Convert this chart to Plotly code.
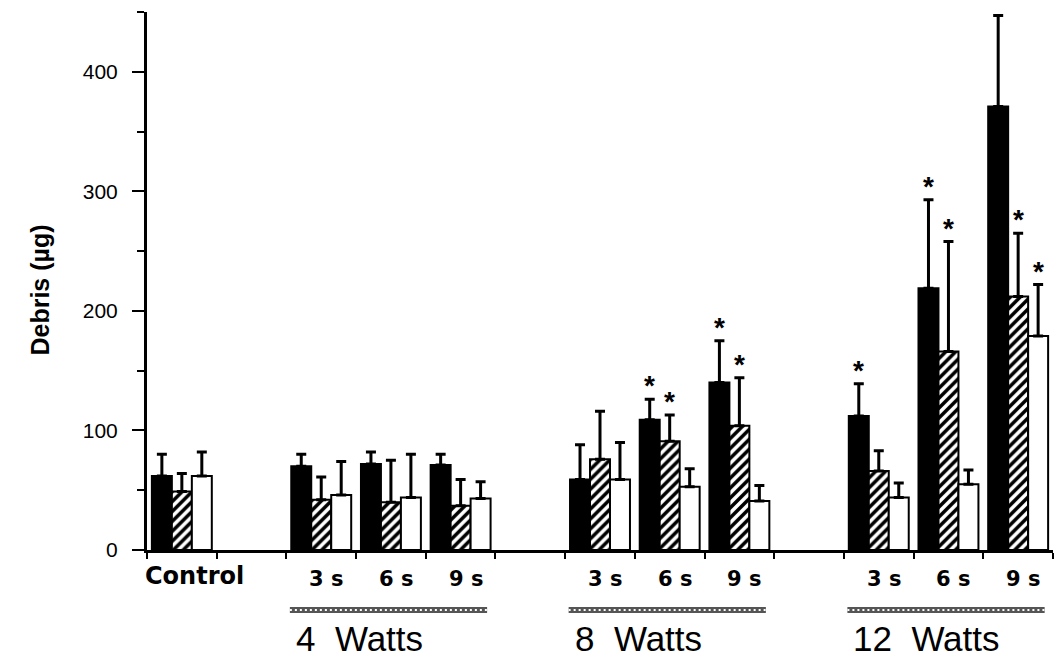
import plotly.graph_objects as go

# ---- data ----
power_groups = ["Control", "4  Watts", "8  Watts", "12  Watts"]
durations = ["3 s", "6 s", "9 s"]
control_label = "Control"
y_title = "Debris (µg)"

# order: Control, 4W 3s/6s/9s, 8W 3s/6s/9s, 12W 3s/6s/9s
black_vals = [62, 70, 72, 71, 59, 109, 140, 112, 219, 371]
black_err = [18, 10, 10, 9, 29, 17, 35, 27, 74, 76]
hatched_vals = [49, 42, 40, 37, 76, 91, 104, 66, 166, 212]
hatched_err = [15, 19, 35, 22, 40, 22, 40, 17, 92, 53]
white_vals = [62, 46, 44, 43, 59, 53, 41, 44, 55, 179]
white_err = [20, 28, 36, 14, 31, 15, 13, 12, 12, 43]

black_sig = [0, 0, 0, 0, 0, 1, 1, 1, 1, 0]
hatched_sig = [0, 0, 0, 0, 0, 1, 1, 0, 1, 1]
white_sig = [0, 0, 0, 0, 0, 0, 0, 0, 0, 1]

y_ticks = [0, 100, 200, 300, 400]
y_max = 450

# ---- slot layout: control slot, then a gap slot before each power group ----
slots = [0]
group_start = {}
s = 1
for g in power_groups[1:]:
    s += 1
    group_start[g] = s
    for d in durations:
        slots.append(s)
        s += 1
n_slots = s  # 13
centers = [v + 0.5 for v in slots]

FONT = "Liberation Sans, Arial, Helvetica, sans-serif"
BFONT = "DejaVu Sans, Liberation Sans, Arial, sans-serif"
fig = go.Figure()

bargap = 0.14
bw = (1 - bargap) / 3

series = [
    ("black", black_vals, black_err, black_sig,
     dict(color="black", line=dict(color="black", width=2))),
    ("hatched", hatched_vals, hatched_err, hatched_sig,
     dict(color="white", line=dict(color="black", width=2),
          pattern=dict(shape="/", fgcolor="black", bgcolor="white", size=7, solidity=0.5, fillmode="replace"))),
    ("white", white_vals, white_err, white_sig,
     dict(color="white", line=dict(color="black", width=2))),
]

for name, vals, err, sig, marker in series:
    fig.add_trace(go.Bar(
        x=centers, y=vals, name=name, marker=marker,
        error_y=dict(type="data", symmetric=False, array=err, arrayminus=[0] * len(err),
                     color="black", thickness=3, width=5),
        showlegend=False,
    ))

annotations = []
# significance stars
for i, (name, vals, err, sig, marker) in enumerate(series):
    off = (i - 1) * bw
    for c, v, e, sg in zip(centers, vals, err, sig):
        if sg:
            annotations.append(dict(x=c + off, y=v + e, xref="x", yref="y", text="<b>*</b>",
                                    showarrow=False, yanchor="bottom", yshift=-4,
                                    font=dict(family=FONT, size=28, color="black")))

# category labels
annotations.append(dict(x=0, y=0, xref="x", yref="paper", text="<b>" + control_label + "</b>",
                        showarrow=False, xanchor="left", yanchor="middle", xshift=-4, yshift=-26,
                        font=dict(family=BFONT, size=24, color="black")))
idx = 1
for g in power_groups[1:]:
    for d in durations:
        annotations.append(dict(x=centers[idx], y=0, xref="x", yref="paper", text="<b>" + d + "</b>",
                                showarrow=False, xanchor="center", yanchor="middle", xshift=5, yshift=-29,
                                font=dict(family=BFONT, size=21, color="black")))
        idx += 1
    st = group_start[g]
    annotations.append(dict(x=st + 0.05, y=0, xref="x", yref="paper", text=g,
                            showarrow=False, xanchor="left", yanchor="middle", xshift=4, yshift=-88,
                            font=dict(family=FONT, size=35, color="black")))

# y-axis title
annotations.append(dict(x=0, y=217, xref="paper", yref="y", text="<b>" + y_title + "</b>",
                        showarrow=False, textangle=-90, xanchor="center", yanchor="middle", xshift=-107,
                        font=dict(family=FONT, size=25, color="black")))

shapes = []
for g in power_groups[1:]:
    st = group_start[g]
    for col, w, dash in (("#555555", 6, "solid"), ("white", 2, "2px,3px")):
        shapes.append(dict(type="line", xref="x", yref="paper", x0=st + 0.05, x1=st + 2.88,
                           y0=-0.1115, y1=-0.1115, line=dict(color=col, width=w, dash=dash)))

fig.update_layout(
    width=1055, height=657,
    margin=dict(l=147, r=2, t=12, b=107),
    paper_bgcolor="white", plot_bgcolor="white",
    barmode="group", bargap=bargap, bargroupgap=0,
    annotations=annotations, shapes=shapes,
    font=dict(family=FONT, color="black"),
)
fig.update_xaxes(range=[0, n_slots], showline=True, linecolor="black", linewidth=3,
                 tickvals=list(range(n_slots + 1)), showticklabels=False,
                 ticks="outside", ticklen=6, tickwidth=2, tickcolor="black",
                 showgrid=False, zeroline=False)
fig.update_yaxes(range=[0, y_max], showline=True, linecolor="black", linewidth=3,
                 tickvals=y_ticks, ticks="outside", ticklen=12, tickwidth=2, tickcolor="black",
                 tickfont=dict(family=FONT, size=21, color="black"), ticklabelstandoff=10,
                 minor=dict(dtick=50, tick0=0, ticks="outside", ticklen=7, tickwidth=2, tickcolor="black"),
                 showgrid=False, zeroline=False)

fig.write_html("out.html")
